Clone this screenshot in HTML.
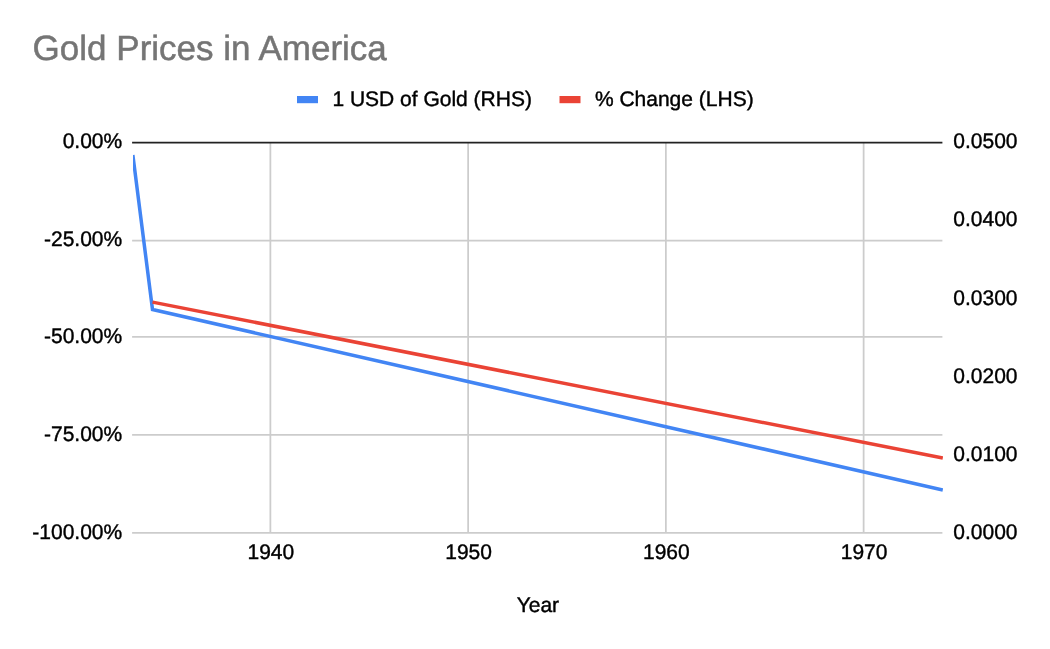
<!DOCTYPE html>
<html>
<head>
<meta charset="utf-8">
<title>Gold Prices in America</title>
<style>
html,body{margin:0;padding:0;background:#fff;}
body{width:1050px;height:649px;overflow:hidden;font-family:"Liberation Sans",sans-serif;}
svg{display:block;will-change:transform;}
text{font-family:"Liberation Sans",sans-serif;text-rendering:geometricPrecision;}
.lbl text{stroke:#000;stroke-width:0.4px;}
</style>
</head>
<body>
<svg width="1050" height="649" viewBox="0 0 1050 649">
  <rect x="0" y="0" width="1050" height="649" fill="#ffffff"/>
  <defs>
    <clipPath id="plot"><rect x="133" y="143" width="809.9" height="390"/></clipPath>
  </defs>

  <!-- title -->
  <text x="32.6" y="60" font-size="35" fill="#757575" stroke="#757575" stroke-width="0.5" textLength="354.2" lengthAdjust="spacing">Gold Prices in America</text>

  <!-- legend -->
  <rect x="297" y="96" width="21" height="7.2" fill="#4285f4"/>
  <rect x="559.5" y="96" width="21" height="7.2" fill="#ea4335"/>
  <g class="lbl" font-size="21" fill="#000000">
    <text x="332.4" y="105.8">1 USD of Gold (RHS)</text>
    <text x="594.9" y="105.8">% Change (LHS)</text>
  </g>

  <!-- gridlines -->
  <g stroke="#cccccc" stroke-width="1.75" fill="none">
    <line x1="132.1" y1="240.625" x2="942.4" y2="240.625"/>
    <line x1="132.1" y1="336.875" x2="942.4" y2="336.875"/>
    <line x1="132.1" y1="434.875" x2="942.4" y2="434.875"/>
    <line x1="132.1" y1="532.875" x2="942.4" y2="532.875"/>
    <line x1="270.375" y1="142.625" x2="270.375" y2="532.875"/>
    <line x1="468.125" y1="142.625" x2="468.125" y2="532.875"/>
    <line x1="665.875" y1="142.625" x2="665.875" y2="532.875"/>
    <line x1="863.625" y1="142.625" x2="863.625" y2="532.875"/>
  </g>
  <!-- zero line -->
  <line x1="132.1" y1="142.7" x2="942.4" y2="142.7" stroke="#222222" stroke-width="1.75"/>

  <!-- series -->
  <g clip-path="url(#plot)" fill="none" stroke-width="3.5" stroke-linejoin="miter">
    <polyline points="132.85,154.9 152.5,309.5 942.8,489.95" stroke="#4285f4"/>
    <polyline points="152.5,302.1 942.8,458.0" stroke="#ea4335"/>
  </g>

  <!-- left axis labels -->
  <g class="lbl" font-size="21" fill="#000000" text-anchor="end">
    <text x="122.2" y="148.4">0.00%</text>
    <text x="122.2" y="246.4">-25.00%</text>
    <text x="122.2" y="342.65">-50.00%</text>
    <text x="122.2" y="440.65">-75.00%</text>
    <text x="122.2" y="538.65">-100.00%</text>
  </g>
  <!-- right axis labels -->
  <g class="lbl" font-size="21" fill="#000000" text-anchor="start">
    <text x="953.3" y="148.4">0.0500</text>
    <text x="953.3" y="226.45">0.0400</text>
    <text x="953.3" y="304.5">0.0300</text>
    <text x="953.3" y="382.55">0.0200</text>
    <text x="953.3" y="460.6">0.0100</text>
    <text x="953.3" y="538.65">0.0000</text>
  </g>
  <!-- x axis labels -->
  <g class="lbl" font-size="21" fill="#000000" text-anchor="middle">
    <text x="270.85" y="559.2">1940</text>
    <text x="468.6" y="559.2">1950</text>
    <text x="666.35" y="559.2">1960</text>
    <text x="864.1" y="559.2">1970</text>
    <text x="537.85" y="612">Year</text>
  </g>
</svg>
</body>
</html>
